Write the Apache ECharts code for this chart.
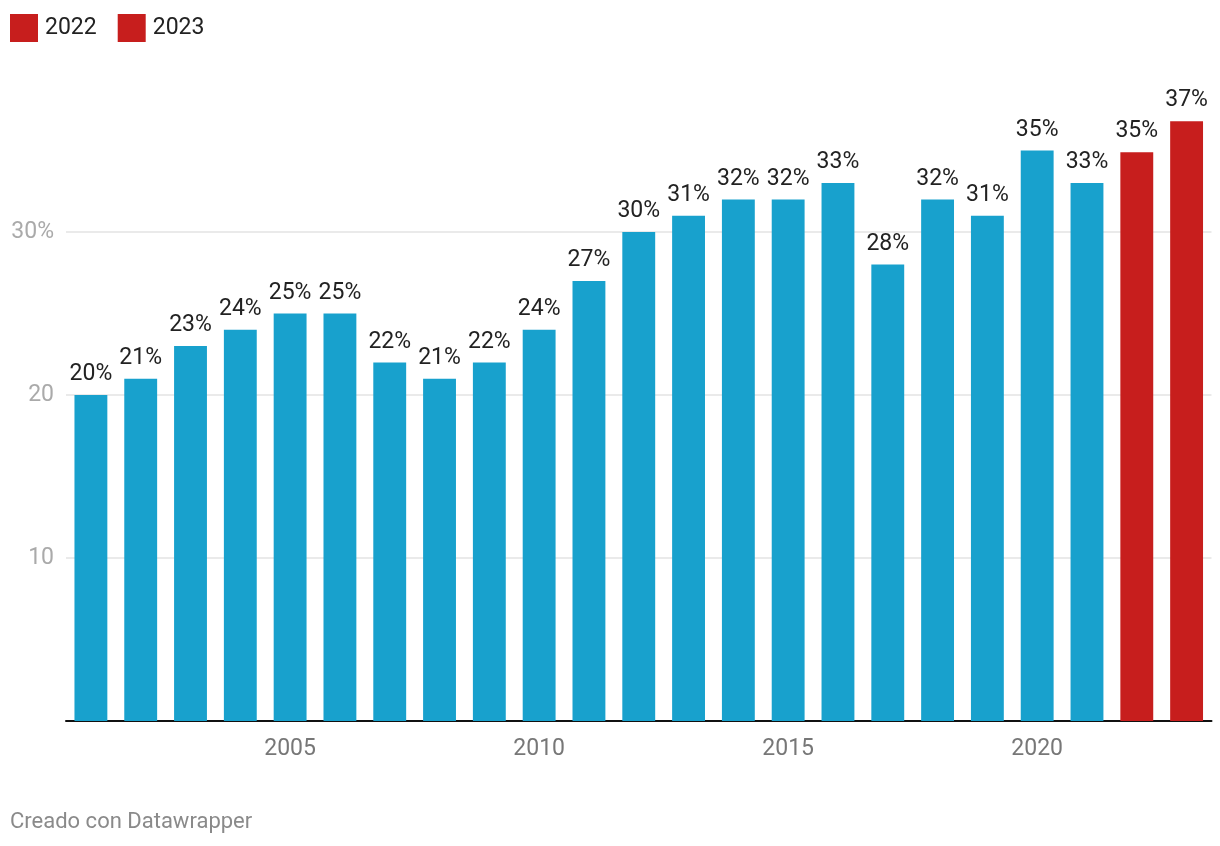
<!DOCTYPE html>
<html>
<head>
<meta charset="utf-8">
<script src="https://cdn.jsdelivr.net/npm/echarts@6/dist/echarts.min.js"></script>
<style>
html,body{margin:0;padding:0;background:#fff;}
#chart{width:1220px;height:846px;}
</style>
</head>
<body>
<div id="chart"></div>
<script>
const years = ['2001','2002','2003','2004','2005','2006','2007','2008','2009','2010','2011','2012','2013','2014','2015','2016','2017','2018','2019','2020','2021','2022','2023'];
const values = [20,21,23,24,25,25,22,21,22,24,27,30,31,32,32,33,28,32,31,35,33,34.9,36.8];
const highlightYears = ['2022','2023'];
const yTicks = [0,10,20,30,40];
const footerText = 'Creado con Datawrapper';

const FONT = 'Roboto';
const BLUE = '#18a1cd';
const RED = '#c71e1d';
const FS = 23;

const labelCfg = {
  show: true, position: 'top', distance: 9,
  fontFamily: FONT, fontSize: FS, color: '#222',
  formatter: p => Math.round(p.value) + '%'
};

const baseData = values.map((v,i)=> highlightYears.includes(years[i]) ? '-' : v);
const hlSeries = highlightYears.map(y => ({
  name: y,
  type: 'bar',
  barGap: '-100%',
  barCategoryGap: '34%',
  itemStyle: {color: RED},
  data: years.map((yy,i)=> yy===y ? values[i] : '-'),
  label: labelCfg
}));

const chart = echarts.init(document.getElementById('chart'), null, {renderer:'canvas'});
chart.setOption({
  animation: false,
  textStyle: {fontFamily: FONT},
  legend: {
    data: highlightYears,
    left: 5, top: 9,
    itemWidth: 28, itemHeight: 28, itemGap: 21,
    icon: 'rect',
    textStyle: {fontFamily: FONT, fontSize: FS, color: '#222', padding: [0,0,0,2]}
  },
  graphic: [{
    type: 'text', left: 10, top: 811,
    style: {text: footerText, fontFamily: FONT, fontSize: 22, fill: '#8a8a8a'}
  }],
  grid: {left: 66, right: 8.5, top: 69, bottom: 125, containLabel: false},
  xAxis: {
    type: 'category',
    data: years,
    axisLine: {lineStyle: {color: '#111', width: 2}},
    axisTick: {show: false},
    axisLabel: {
      interval: (idx, val) => Number(val) % 5 === 0,
      fontFamily: FONT, fontSize: FS, color: '#777', margin: 17
    }
  },
  yAxis: {
    type: 'value',
    min: yTicks[0], max: yTicks[yTicks.length-1], interval: 10,
    axisLine: {show: false},
    axisTick: {show: false},
    splitLine: {show: true, showMaxLine: false, lineStyle: {color: '#e3e3e3', width: 1.5}},
    axisLabel: {
      showMaxLabel: false,
      fontFamily: FONT, fontSize: FS, color: '#aaa', margin: 12,
      formatter: v => v === 0 ? '' : (v === 30 ? v + '%' : String(v))
    }
  },
  series: [{
    name: 'base',
    type: 'bar',
    barCategoryGap: '34%',
    barGap: '-100%',
    itemStyle: {color: BLUE},
    data: baseData,
    label: labelCfg
  }].concat(hlSeries)
});
</script>
</body>
</html>
